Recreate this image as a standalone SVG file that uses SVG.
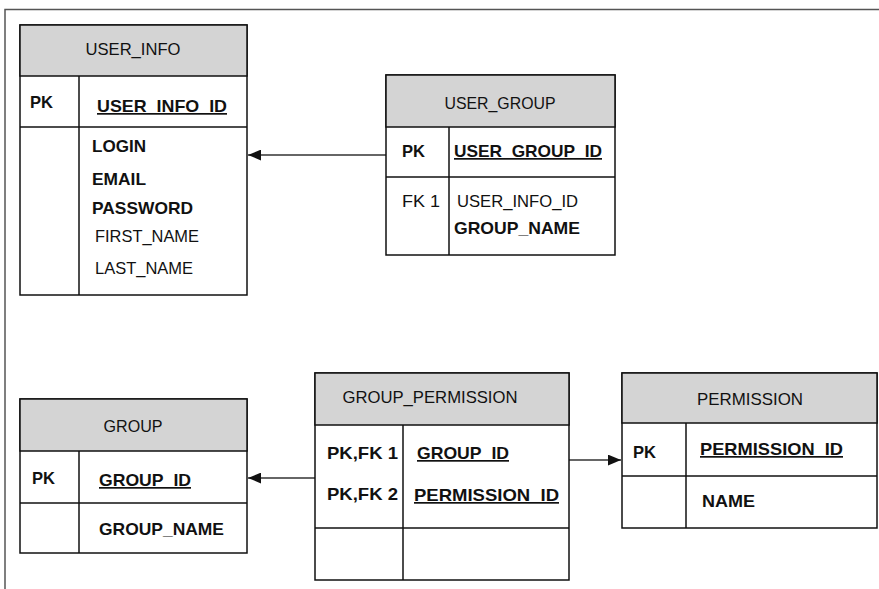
<svg xmlns="http://www.w3.org/2000/svg" width="879" height="589" viewBox="0 0 879 589">
<style>
.box{fill:#fff;stroke:#111;stroke-width:1.5}
.hdr{fill:#d4d4d4;stroke:#111;stroke-width:1.5}
.ln{stroke:#111;stroke-width:1.5;fill:none}
.t{font-family:"Liberation Sans",Arial,sans-serif;font-size:17px;fill:#111}
.h{text-anchor:middle}
.b{font-weight:bold}
.u{text-decoration:underline}
.con{stroke:#333;stroke-width:1.3;fill:none}
</style>
<defs>
<marker id="arr" viewBox="0 0 12 10" refX="12" refY="5" markerWidth="13" markerHeight="11" markerUnits="userSpaceOnUse" orient="auto">
<path d="M0,0 L12,5 L0,10 Z" fill="#111"/>
</marker>
</defs>
<rect width="879" height="589" fill="#fff"/>
<path d="M5,589 V9.5 H879" stroke="#555" stroke-width="1.5" fill="none"/>

<g id="connectors">
<line class="con" x1="386" y1="155" x2="248" y2="155" marker-end="url(#arr)"/>
<line class="con" x1="315" y1="478" x2="248" y2="478" marker-end="url(#arr)"/>
<line class="con" x1="569" y1="460" x2="621" y2="460" marker-end="url(#arr)"/>
</g>

<g id="user_info">
<rect class="box" x="20" y="25" width="227" height="270"/>
<rect class="hdr" x="20" y="25" width="227" height="51"/>
<line class="ln" x1="20" y1="127" x2="247" y2="127"/>
<line class="ln" x1="79" y1="76" x2="79" y2="295"/>
<text class="t h" x="133" y="55" textLength="95" lengthAdjust="spacingAndGlyphs">USER_INFO</text>
<text class="t b" x="30" y="108" textLength="23" lengthAdjust="spacingAndGlyphs">PK</text>
<text class="t b u" x="97" y="112" textLength="130" lengthAdjust="spacingAndGlyphs">USER_INFO_ID</text>
<text class="t b" x="92" y="152" textLength="54" lengthAdjust="spacingAndGlyphs">LOGIN</text>
<text class="t b" x="92" y="185" textLength="54" lengthAdjust="spacingAndGlyphs">EMAIL</text>
<text class="t b" x="92" y="214" textLength="101" lengthAdjust="spacingAndGlyphs">PASSWORD</text>
<text class="t" x="95" y="242" textLength="104" lengthAdjust="spacingAndGlyphs">FIRST_NAME</text>
<text class="t" x="95" y="274" textLength="98" lengthAdjust="spacingAndGlyphs">LAST_NAME</text>
</g>

<g id="user_group">
<rect class="box" x="386" y="75" width="229" height="180"/>
<rect class="hdr" x="386" y="75" width="229" height="52"/>
<line class="ln" x1="386" y1="177" x2="615" y2="177"/>
<line class="ln" x1="449" y1="127" x2="449" y2="255"/>
<text class="t h" x="500" y="109" textLength="111" lengthAdjust="spacingAndGlyphs">USER_GROUP</text>
<text class="t b" x="402" y="157" textLength="23" lengthAdjust="spacingAndGlyphs">PK</text>
<text class="t b u" x="454" y="157" textLength="148" lengthAdjust="spacingAndGlyphs">USER_GROUP_ID</text>
<text class="t" x="402" y="207" textLength="38" lengthAdjust="spacingAndGlyphs">FK 1</text>
<text class="t" x="457" y="207" textLength="121" lengthAdjust="spacingAndGlyphs">USER_INFO_ID</text>
<text class="t b" x="454" y="234" textLength="126" lengthAdjust="spacingAndGlyphs">GROUP_NAME</text>
</g>

<g id="group">
<rect class="box" x="20" y="399" width="227" height="154"/>
<rect class="hdr" x="20" y="399" width="227" height="52"/>
<line class="ln" x1="20" y1="503" x2="247" y2="503"/>
<line class="ln" x1="79" y1="451" x2="79" y2="553"/>
<text class="t h" x="133" y="432" textLength="59" lengthAdjust="spacingAndGlyphs">GROUP</text>
<text class="t b" x="32" y="484" textLength="23" lengthAdjust="spacingAndGlyphs">PK</text>
<text class="t b u" x="99" y="486" textLength="92" lengthAdjust="spacingAndGlyphs">GROUP_ID</text>
<text class="t b" x="99" y="535" textLength="125" lengthAdjust="spacingAndGlyphs">GROUP_NAME</text>
</g>

<g id="group_permission">
<rect class="box" x="315" y="373" width="254" height="207"/>
<rect class="hdr" x="315" y="373" width="254" height="52"/>
<line class="ln" x1="315" y1="528" x2="569" y2="528"/>
<line class="ln" x1="403" y1="425" x2="403" y2="580"/>
<text class="t h" x="430" y="403" textLength="175" lengthAdjust="spacingAndGlyphs">GROUP_PERMISSION</text>
<text class="t b" x="327" y="459" textLength="71" lengthAdjust="spacingAndGlyphs">PK,FK 1</text>
<text class="t b u" x="417" y="459" textLength="92" lengthAdjust="spacingAndGlyphs">GROUP_ID</text>
<text class="t b" x="327" y="500" textLength="71" lengthAdjust="spacingAndGlyphs">PK,FK 2</text>
<text class="t b u" x="414" y="501" textLength="145" lengthAdjust="spacingAndGlyphs">PERMISSION_ID</text>
</g>

<g id="permission">
<rect class="box" x="622" y="373" width="255" height="155"/>
<rect class="hdr" x="622" y="373" width="255" height="50"/>
<line class="ln" x1="622" y1="476" x2="877" y2="476"/>
<line class="ln" x1="686" y1="423" x2="686" y2="528"/>
<text class="t h" x="750" y="405" textLength="106" lengthAdjust="spacingAndGlyphs">PERMISSION</text>
<text class="t b" x="633" y="458" textLength="23" lengthAdjust="spacingAndGlyphs">PK</text>
<text class="t b u" x="700" y="455" textLength="143" lengthAdjust="spacingAndGlyphs">PERMISSION_ID</text>
<text class="t b" x="702" y="507" textLength="53" lengthAdjust="spacingAndGlyphs">NAME</text>
</g>
</svg>
